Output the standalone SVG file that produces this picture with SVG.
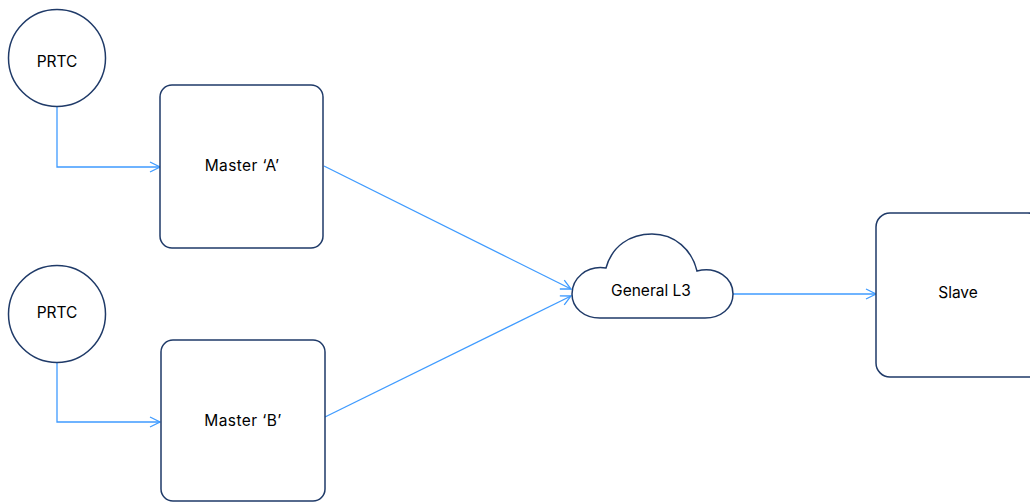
<svg xmlns="http://www.w3.org/2000/svg" width="1030" height="502" viewBox="0 0 1030 502">
<style>
.node{fill:#fff;stroke:#1f3a68;stroke-width:1.5}
.lbl{font-family:Inter,"Liberation Sans",sans-serif;font-size:15.5px;fill:#000;text-anchor:middle;dominant-baseline:central}
.con{fill:none;stroke:#3f9bff;stroke-width:1.3}
</style>
<defs>
<marker id="arr" viewBox="0 0 12 12" refX="11" refY="6" markerWidth="12" markerHeight="12" markerUnits="userSpaceOnUse" orient="auto">
<path d="M1 1 L11 6 L1 11" fill="none" stroke="#3f9bff" stroke-width="1.3"/>
</marker>
</defs>
<rect width="1030" height="502" fill="#fff"/>
<g id="connectors">
<path class="con" d="M57 106 V167 H160" marker-end="url(#arr)"/>
<path class="con" d="M57 362 V422 H160" marker-end="url(#arr)"/>
<path class="con" d="M324 166 L571 289" marker-end="url(#arr)"/>
<path class="con" d="M325 417 L571 296" marker-end="url(#arr)"/>
<path class="con" d="M733 294 H876" marker-end="url(#arr)"/>
</g>
<g id="prtc1">
<circle class="node" cx="57" cy="58" r="48.5"/>
<text class="lbl" x="57" y="61">PRTC</text>
</g>
<g id="masterA">
<rect class="node" x="160" y="85" width="163" height="163" rx="12"/>
<text class="lbl" x="242" y="165" letter-spacing="0.4">Master ‘A’</text>
</g>
<g id="prtc2">
<circle class="node" cx="57" cy="314" r="48.5"/>
<text class="lbl" x="57" y="312">PRTC</text>
</g>
<g id="masterB">
<rect class="node" x="161" y="340" width="164" height="161" rx="12"/>
<text class="lbl" x="243" y="420" letter-spacing="0.4">Master ‘B’</text>
</g>
<g id="cloud">
<path class="node" d="M600 318 C584 318 572 308 572 294 C572 279 586 265 606 268 C612 246 630 234 652 234 C675 234 692 250 697 271 C717 266 733 278 733 294 C733 308 721 318 705 318 Z"/>
<text class="lbl" x="651" y="290">General L3</text>
</g>
<g id="slave">
<rect class="node" x="876" y="213" width="166" height="164" rx="14"/>
<text class="lbl" x="958" y="292">Slave</text>
</g>
</svg>
